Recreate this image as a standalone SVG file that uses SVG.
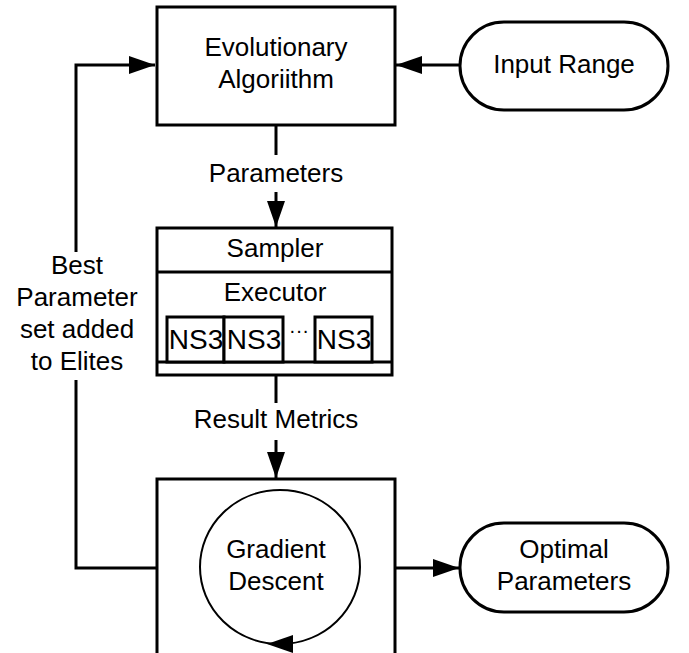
<svg xmlns="http://www.w3.org/2000/svg" width="689" height="653" viewBox="0 0 689 653">
<style>
.box{fill:#fff;stroke:#000;stroke-width:3}
.thin{fill:none;stroke:#000;stroke-width:2}
.conn{fill:none;stroke:#000;stroke-width:3}
text{font-family:"Liberation Sans",Arial,sans-serif;font-size:26px;fill:#000;text-anchor:middle}
.ns{font-size:28px}
</style>
<defs>
<marker id="ah" viewBox="0 0 26 18" refX="26" refY="9" markerWidth="26" markerHeight="18" markerUnits="userSpaceOnUse" orient="auto">
<path d="M0,0 L26,9 L0,18 Z" fill="#000"/>
</marker>
</defs>
<g id="connectors">
<path class="conn" d="M460,65 L396,65" marker-end="url(#ah)"/>
<path class="conn" d="M276,125 L276,155"/>
<path class="conn" d="M276,192 L276,227" marker-end="url(#ah)"/>
<path class="conn" d="M276,375 L276,403"/>
<path class="conn" d="M276,440 L276,478" marker-end="url(#ah)"/>
<path class="conn" d="M157,568 L76,568 L76,380"/>
<path class="conn" d="M76,252 L76,65 L155,65" marker-end="url(#ah)"/>
<path class="conn" d="M395,568 L459,568" marker-end="url(#ah)"/>
<text x="276" y="182">Parameters</text>
<text x="276" y="428">Result Metrics</text>
<text x="77" y="274">Best</text>
<text x="77" y="306">Parameter</text>
<text x="77" y="338">set added</text>
<text x="77" y="370">to Elites</text>
</g>
<g id="evolutionary">
<rect class="box" x="157" y="7" width="238" height="118"/>
<text x="276" y="56">Evolutionary</text>
<text x="276" y="88">Algoriithm</text>
</g>
<g id="input-range">
<rect class="box" x="460" y="22" width="208" height="88" rx="44"/>
<text x="564" y="73">Input Range</text>
</g>
<g id="sampler-executor">
<rect class="box" x="157" y="228" width="235" height="147"/>
<line class="conn" x1="157" y1="272" x2="392" y2="272"/>
<line class="conn" x1="157" y1="362" x2="392" y2="362"/>
<text x="275" y="257">Sampler</text>
<text x="275" y="301">Executor</text>
<rect class="box" x="167" y="317" width="57" height="45"/>
<rect class="box" x="224" y="317" width="59" height="45"/>
<rect class="box" x="315" y="317" width="57" height="45"/>
<text class="ns" x="196" y="349">NS3</text>
<text class="ns" x="254" y="349">NS3</text>
<text x="299" y="337" style="font-size:20px">···</text>
<text class="ns" x="344" y="349">NS3</text>
</g>
<g id="gradient-descent">
<rect class="box" x="157" y="479" width="238" height="200"/>
<ellipse class="thin" cx="280" cy="567" rx="80" ry="77"/>
<path d="M293,635 L267,644 L293,653 Z" fill="#000"/>
<text x="276" y="558">Gradient</text>
<text x="276" y="590">Descent</text>
</g>
<g id="optimal-parameters">
<rect class="box" x="460" y="523" width="208" height="89" rx="44"/>
<text x="564" y="558">Optimal</text>
<text x="564" y="590">Parameters</text>
</g>
</svg>
